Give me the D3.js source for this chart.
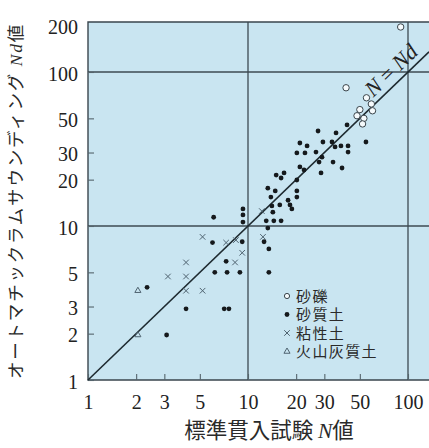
<!DOCTYPE html>
<html>
<head>
<meta charset="utf-8">
<script src="https://cdn.jsdelivr.net/npm/d3@7/dist/d3.min.js"></script>
<style>
  html, body { margin: 0; padding: 0; background: #fff; }
  svg { display: block; }
  .num { font-family: "Liberation Serif", "DejaVu Serif", serif; fill: #222; }
  .jp { font-family: "Noto Sans CJK JP", sans-serif; fill: #2a2a2a; }
</style>
</head>
<body>
<svg id="chart" width="429" height="448"></svg>
<script>
// Soil classes shown in the legend
const soilTypes = ["砂礫", "砂質土", "粘性土", "火山灰質土"];

// Standard penetration N value vs. automatic ram sounding Nd value, per soil class
const gravel = [
  [90, 196], [41, 79], [55, 68], [59, 62], [50, 57], [60, 56], [48, 52], [53, 50], [52, 46]
];
const sandySoil = [
  [41.6, 45.3], [54.6, 35.1], [27.4, 41.4], [35.5, 40.2], [29.4, 35.1], [33.5, 35.1],
  [21.1, 34.6], [23.4, 33.1], [20.2, 29.8], [22.7, 29.8], [26.6, 30.2], [35.0, 32.6],
  [38.1, 33.1], [42.2, 33.1], [42.2, 30.2], [29.0, 28.0], [27.8, 26.0], [34.0, 26.0],
  [38.7, 23.8], [28.6, 22.1], [21.1, 24.2], [22.4, 23.1], [20.2, 19.9], [15.0, 21.4],
  [16.8, 22.1], [16.1, 20.5], [13.3, 17.6], [14.8, 16.9], [13.9, 15.4], [20.2, 16.9],
  [20.2, 15.4], [17.8, 14.7], [18.3, 13.7], [15.8, 13.7], [14.1, 13.5], [14.3, 12.3],
  [18.8, 12.9], [9.3, 12.9], [9.3, 11.8], [9.3, 10.6], [6.1, 11.4], [13.0, 10.8],
  [14.5, 10.8], [16.1, 10.8], [13.3, 9.7], [9.2, 7.9], [6.0, 7.8], [12.6, 7.9],
  [13.5, 7.1], [7.3, 5.9], [6.2, 5.0], [7.4, 5.0], [8.9, 5.0], [13.5, 5.0],
  [7.1, 2.9], [7.6, 2.9], [2.34, 4.0], [4.1, 2.9], [3.1, 1.96]
];
const claySoil = [
  [3.16, 4.7], [4.1, 4.7], [4.1, 5.8], [4.1, 3.8], [5.2, 3.8], [5.2, 8.5],
  [7.3, 7.8], [8.4, 8.1], [12.4, 8.5], [9.2, 6.7], [8.3, 5.8], [12.2, 12.5]
];
const volcanicAshSoil = [
  [2.05, 3.8], [2.05, 1.96]
];

// Axis ticks
const xTicks = [1, 2, 3, 5, 10, 20, 30, 50, 100];
const yTicks = [1, 2, 3, 5, 10, 20, 30, 50, 100, 200];
const gridValues = [10, 100];

const svg = d3.select("#chart");

const x = d3.scaleLog().domain([1, 100]).range([88, 408]);
const y = d3.scaleLog().domain([1, 100]).range([380, 72]);
const plotLeft = x(1), plotRight = 429, plotBottom = y(1), plotTop = 22;

// plot background
svg.append("rect")
  .attr("x", plotLeft).attr("y", plotTop)
  .attr("width", plotRight - plotLeft).attr("height", plotBottom - plotTop)
  .attr("fill", "#c9e5f1");

// grid lines at 10 and 100
svg.append("g")
  .selectAll("line").data(gridValues).join("line")
  .attr("x1", d => x(d)).attr("x2", d => x(d))
  .attr("y1", plotTop).attr("y2", plotBottom)
  .attr("stroke", "#3d4a52").attr("stroke-width", 1.3);
svg.append("g")
  .selectAll("line").data(gridValues).join("line")
  .attr("x1", plotLeft).attr("x2", plotRight)
  .attr("y1", d => y(d)).attr("y2", d => y(d))
  .attr("stroke", "#3d4a52").attr("stroke-width", 1.3);

// frame: top, left, bottom
svg.append("path")
  .attr("d", `M${plotRight},${plotTop}H${plotLeft}V${plotBottom}H${plotRight}`)
  .attr("fill", "none").attr("stroke", "#3a464e").attr("stroke-width", 1.4);

// x axis
const xAxis = d3.axisBottom(x)
  .tickValues(xTicks)
  .tickFormat(d3.format("d"))
  .tickSizeInner(-6).tickSizeOuter(0).tickPadding(15);
const gx = svg.append("g").attr("transform", `translate(0,${plotBottom})`).call(xAxis);
gx.select(".domain").remove();
gx.selectAll(".tick line").attr("stroke", "#55646c").attr("stroke-width", 1.1);
gx.selectAll(".tick text").attr("class", "num").attr("font-size", 20).attr("fill", "#222");

// y axis
const yAxis = d3.axisLeft(y)
  .tickValues(yTicks)
  .tickFormat(d3.format("d"))
  .tickSizeInner(-6).tickSizeOuter(0).tickPadding(10);
const gy = svg.append("g").attr("transform", `translate(${plotLeft},0)`).call(yAxis);
gy.select(".domain").remove();
gy.selectAll(".tick line").attr("stroke", "#55646c").attr("stroke-width", 1.1)
  .filter(d => d === 200).remove();
gy.selectAll(".tick text").attr("class", "num").attr("font-size", 20).attr("fill", "#222")
  .attr("dy", "0.4em");

// N = Nd reference line across the plot
const lineEnd = x.invert(plotRight);
svg.append("line")
  .attr("x1", x(1)).attr("y1", y(1))
  .attr("x2", x(lineEnd)).attr("y2", y(lineEnd))
  .attr("stroke", "#1e2a30").attr("stroke-width", 1.6);

const angle = Math.atan2(y(1) - y(100), x(100) - x(1)) * 180 / Math.PI;
const lbl = svg.append("text")
  .attr("class", "num")
  .attr("transform", `translate(${x(88) - 3},${y(88) - 5}) rotate(${-angle})`)
  .attr("text-anchor", "middle")
  .attr("font-size", 22)
  .attr("fill", "#333");
lbl.append("tspan").attr("font-style", "italic").text("N");
lbl.append("tspan").text(" = ");
lbl.append("tspan").attr("font-style", "italic").text("Nd");

// markers
const pts = svg.append("g");
pts.selectAll("circle.gravel").data(gravel).join("circle")
  .attr("class", "gravel")
  .attr("cx", d => x(d[0])).attr("cy", d => y(d[1])).attr("r", 3.2)
  .attr("fill", "#f6fbfd").attr("stroke", "#39444a").attr("stroke-width", 1);
pts.selectAll("circle.sandy").data(sandySoil).join("circle")
  .attr("class", "sandy")
  .attr("cx", d => x(d[0])).attr("cy", d => y(d[1])).attr("r", 2.4)
  .attr("fill", "#15191c");
const cross = d3.symbol().type(d3.symbolX).size(22);
pts.selectAll("path.clay").data(claySoil).join("path")
  .attr("class", "clay")
  .attr("transform", d => `translate(${x(d[0])},${y(d[1])})`)
  .attr("d", cross)
  .attr("fill", "none").attr("stroke", "#4f6370").attr("stroke-width", 1);
const tri = d3.symbol().type(d3.symbolTriangle).size(16);
pts.selectAll("path.ash").data(volcanicAshSoil).join("path")
  .attr("class", "ash")
  .attr("transform", d => `translate(${x(d[0])},${y(d[1])})`)
  .attr("d", tri)
  .attr("fill", "none").attr("stroke", "#4f6370").attr("stroke-width", 1);

// legend
const legendX = 287, legendY0 = 296, legendStep = 18.5;
const lg = svg.append("g");
soilTypes.forEach((name, i) => {
  const cy = legendY0 + i * legendStep;
  if (i === 0) {
    lg.append("circle").attr("cx", legendX).attr("cy", cy).attr("r", 2.6)
      .attr("fill", "#f6fbfd").attr("stroke", "#39444a").attr("stroke-width", 1);
  } else if (i === 1) {
    lg.append("circle").attr("cx", legendX).attr("cy", cy).attr("r", 2.4).attr("fill", "#15191c");
  } else if (i === 2) {
    lg.append("path").attr("transform", `translate(${legendX},${cy})`).attr("d", cross)
      .attr("fill", "none").attr("stroke", "#4f6370").attr("stroke-width", 1);
  } else {
    lg.append("path").attr("transform", `translate(${legendX},${cy})`).attr("d", tri)
      .attr("fill", "none").attr("stroke", "#4f6370").attr("stroke-width", 1);
  }
  lg.append("text").attr("class", "jp")
    .attr("x", legendX + 9).attr("y", cy + 5.5)
    .attr("font-size", 15).attr("letter-spacing", 1.4)
    .text(name);
});

// x axis title
const xt = svg.append("text").attr("class", "jp")
  .attr("x", 269).attr("y", 438).attr("text-anchor", "middle").attr("font-size", 21.5);
xt.append("tspan").text("標準貫入試験 ");
xt.append("tspan").attr("font-family", "'Liberation Serif', serif").attr("font-style", "italic").text("N");
xt.append("tspan").text("値");

// y axis title
const yt = svg.append("text").attr("class", "jp")
  .attr("transform", "translate(22,201) rotate(-90)")
  .attr("text-anchor", "middle").attr("font-size", 17.5).attr("letter-spacing", 1.8);
yt.append("tspan").text("オートマチックラムサウンディング ");
yt.append("tspan").attr("font-family", "'Liberation Serif', serif").attr("font-style", "italic").text("Nd");
yt.append("tspan").text("値");
</script>
</body>
</html>
